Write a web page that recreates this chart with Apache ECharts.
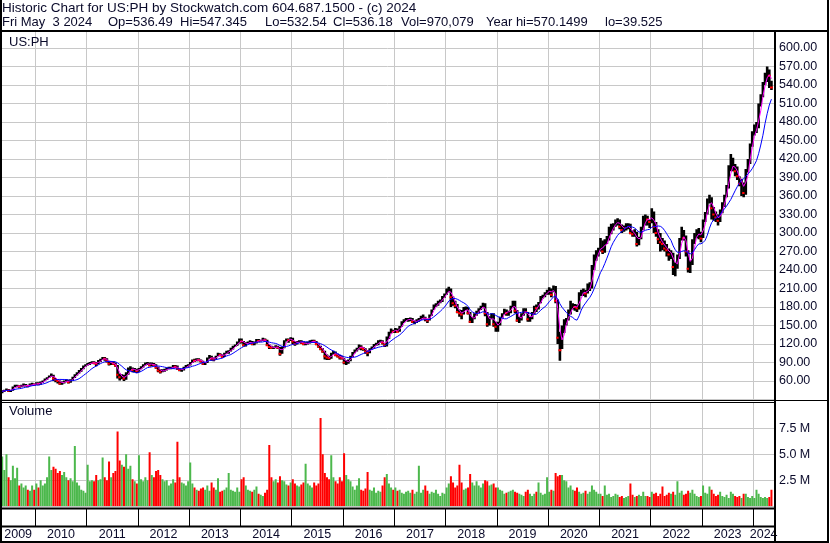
<!DOCTYPE html>
<html><head><meta charset="utf-8">
<script src="https://cdn.jsdelivr.net/npm/echarts@6/dist/echarts.min.js"></script>
<style>html,body{margin:0;padding:0;background:#fff}#c{width:830px;height:543px}</style>
</head><body><div id="c"></div>
<script>
// Half-month periods from May 2009 (first half) to May 2024 (first half)
const FIRST_PERIOD = 2009 + 4 / 12;

const closes = [
 43,45,46,44,45,50,52,52,51,52,53,53,52,54,55,54,
 57,55,58,60,63,65,68,70,64,62,60,56,57,60,61,58,62,66,70,72,76,80,84,86,
 88,89,90,89,88,93,95,97,96,92,88,90,88,85,70,66,68,64,70,80,80,78,78,76,
 80,82,86,88,89,85,88,86,82,77,75,77,78,80,81,81,84,83,80,78,78,82,85,85,
 90,94,93,95,94,92,88,89,97,100,96,95,100,104,102,99,105,108,108,112,116,118,122,128,
 124,118,122,122,124,120,122,127,125,126,128,126,118,115,114,114,116,114,104,114,124,128,126,129,
 124,120,124,124,122,120,120,122,124,125,124,120,116,112,108,100,98,97,104,107,102,100,98,97,
 90,92,92,100,106,110,112,118,114,112,108,106,112,115,118,120,124,125,122,118,130,138,142,140,
 144,140,148,155,158,160,160,160,156,156,158,160,162,164,160,158,166,175,182,184,188,190,196,200,
 206,210,196,186,182,172,170,168,178,178,170,156,162,168,172,176,180,184,170,152,162,168,152,148,
 152,162,168,175,170,172,180,188,174,158,160,168,176,172,160,162,170,180,178,186,196,198,202,206,
 208,200,212,190,130,110,140,155,160,172,180,182,180,178,200,204,205,202,210,215,240,260,265,272,
 285,270,285,290,300,310,312,318,320,310,305,308,312,312,300,298,300,282,290,305,320,325,322,318,
 334,310,300,290,285,282,275,272,265,268,245,245,260,290,300,292,270,242,250,285,295,300,300,291,
 320,330,352,355,340,330,325,320,335,345,360,375,405,410,410,400,392,380,382,365,400,415,440,460,
 470,470,505,520,540,555,560,555,536
];
const highs = [
 45,46,48,47,46,51,54,54,53,54,56,55,54,56,57,56,
 58,58,59,61,64,66,69,72,70,65,63,61,59,61,63,62,63,67,71,74,78,81,85,87,
 89,91,92,92,91,94,96,99,99,97,93,92,92,90,86,72,71,70,74,82,84,82,81,80,
 81,84,87,90,91,90,90,89,87,83,79,79,80,82,83,83,86,86,85,81,80,83,86,87,
 91,95,96,97,97,95,93,91,98,102,101,98,101,106,105,103,106,109,110,114,117,119,124,129,
 129,125,123,124,126,125,124,128,128,127,130,129,127,119,117,116,118,117,115,116,126,129,129,131,
 130,125,125,126,126,124,123,124,126,127,127,125,121,117,113,109,103,101,106,109,108,104,102,100,
 97,94,95,101,107,111,114,119,118,115,113,110,113,116,120,122,126,127,126,121,132,140,145,143,
 146,145,149,157,160,162,162,163,162,158,160,162,166,168,164,161,168,176,184,186,190,192,198,202,
 210,213,210,197,190,185,176,175,180,181,180,172,164,170,174,178,182,187,186,172,165,170,170,156,
 156,164,170,177,176,174,182,190,190,175,164,170,178,178,172,164,172,182,184,188,198,200,204,208,
 212,210,215,214,192,140,150,160,162,176,190,186,185,184,204,208,210,208,218,220,248,265,272,276,
 292,288,290,295,310,315,316,322,324,322,314,312,316,316,315,304,306,302,294,310,328,330,328,322,
 340,335,318,306,300,292,288,282,275,272,268,252,265,292,310,305,296,272,256,290,300,306,308,302,
 322,334,356,362,358,342,335,330,338,350,362,378,410,428,422,412,408,392,388,382,404,420,445,465,
 476,480,510,525,545,560,570,565,547
];
const lows = [
 40,42,44,42,42,44,50,50,49,50,51,51,50,52,53,53,
 54,53,54,57,60,62,65,67,60,58,56,54,54,56,58,56,57,61,65,69,72,75,79,83,
 85,86,88,87,84,87,91,94,93,90,85,86,86,83,64,61,63,60,62,70,76,74,74,73,
 75,79,82,85,86,84,84,84,80,74,72,74,75,77,79,79,80,81,78,76,75,77,81,83,
 85,89,91,92,92,90,86,86,89,96,93,92,95,100,100,98,99,104,104,108,111,115,117,121,
 121,116,116,120,120,118,118,121,123,124,125,124,117,112,112,112,113,112,101,104,113,124,122,125,
 120,117,119,122,120,118,118,119,121,123,122,118,114,110,106,95,94,94,96,103,100,98,95,95,
 87,86,88,92,99,105,108,111,110,109,104,100,105,111,114,117,118,122,119,115,116,128,137,138,
 138,139,140,148,154,157,156,157,154,152,154,156,159,161,157,154,158,166,175,180,182,186,188,195,
 200,204,180,182,178,170,164,160,168,175,168,154,154,160,166,170,175,178,165,148,150,160,148,140,
 140,150,162,168,166,166,170,179,170,156,154,158,166,170,156,156,160,168,172,176,186,194,196,200,
 200,196,204,186,120,93,112,138,150,158,168,176,174,172,176,198,198,196,202,206,210,240,255,262,
 270,266,268,282,288,298,304,310,312,306,300,302,304,306,298,294,294,278,280,290,305,312,312,308,
 316,300,294,282,270,272,270,262,255,258,232,230,242,258,288,288,262,236,235,248,282,292,290,285,
 292,318,330,348,322,320,318,312,318,332,342,358,372,400,400,392,386,376,360,358,362,398,412,440,
 458,462,470,505,520,540,545,535,532
];
// volume in millions of shares
const volumes = [
 4.8,3.5,5.0,2.8,2.5,3.9,2.7,3.7,2.0,2.2,1.8,2.0,1.6,1.5,2.0,1.6,
 2.2,1.8,2.5,2.0,2.2,2.8,4.8,3.5,3.8,3.6,3.2,3.4,3.0,3.3,2.8,2.5,2.7,2.4,5.8,2.3,2.0,1.6,1.5,1.3,
 4.0,2.4,2.5,2.4,3.0,2.5,2.6,4.7,2.8,2.5,4.3,2.8,3.2,3.4,7.2,4.4,4.0,3.8,5.0,3.6,3.9,2.6,2.4,2.2,
 4.9,2.6,2.4,2.8,2.5,5.2,3.0,2.8,3.4,3.5,3.0,2.6,2.4,2.5,2.0,2.2,2.6,2.3,6.2,2.8,2.3,2.2,2.0,2.4,
 4.2,2.2,1.8,1.6,1.5,1.7,1.8,1.6,2.0,1.5,2.3,1.8,1.6,2.7,1.4,1.5,1.6,1.8,3.2,1.6,1.5,1.4,1.8,1.4,
 2.6,2.8,2.0,1.6,1.5,1.4,1.6,1.9,1.2,1.1,1.0,1.3,1.6,5.9,2.8,2.4,2.6,2.3,2.9,2.5,2.4,2.1,2.0,2.3,
 2.6,2.2,2.0,1.9,2.1,2.3,4.1,2.2,2.0,1.8,2.3,2.0,2.2,8.5,5.0,3.2,2.8,2.6,4.9,2.8,2.4,2.2,2.8,2.4,
 5.1,3.0,2.6,2.4,1.9,1.6,2.0,2.7,1.6,1.5,1.7,3.3,1.6,1.5,1.8,1.3,1.5,1.4,2.0,2.8,3.1,2.2,1.8,1.6,
 1.8,1.5,1.6,1.3,1.2,1.4,1.5,1.3,1.6,1.2,1.4,3.9,1.3,1.6,2.0,1.5,1.2,1.4,1.3,1.6,1.2,1.0,1.3,1.2,
 1.8,2.2,2.9,2.3,1.8,2.0,4.0,2.3,1.6,1.7,1.8,3.1,2.3,2.0,2.4,2.0,1.8,2.2,2.5,2.4,2.0,2.1,2.2,1.8,
 1.8,1.6,1.5,1.2,1.3,1.4,1.5,1.6,1.4,1.3,1.2,1.1,1.0,1.4,1.6,1.2,1.0,1.2,1.4,2.3,1.3,1.1,1.2,2.8,
 1.4,1.6,1.5,3.2,2.9,3.0,3.0,2.5,2.4,1.8,2.0,1.6,1.5,1.8,1.4,1.2,1.3,1.5,1.2,1.4,2.0,1.6,1.4,1.2,
 1.2,1.0,2.0,1.1,1.2,0.9,1.0,1.2,1.1,0.9,1.0,0.8,0.9,1.0,2.2,1.1,0.9,1.0,1.1,1.0,1.4,1.0,1.0,0.9,
 1.4,1.2,1.3,1.0,1.2,1.9,1.0,1.1,1.3,1.2,1.4,1.1,2.4,1.3,1.5,1.1,1.2,1.5,1.3,1.6,1.2,1.0,0.9,1.0,
 2.0,1.3,1.2,1.9,1.6,1.2,1.0,1.1,1.4,1.0,0.9,1.1,0.8,1.4,1.2,1.0,0.9,1.0,0.8,1.2,1.2,0.9,0.8,1.0,
 0.8,1.6,1.2,0.9,0.8,0.9,0.8,0.9,1.6
];
const yearBoundaries = [2010,2011,2012,2013,2014,2015,2016,2017,2018,2019,2020,2021,2022,2023,2024];
const yearLabels = ['2009','2010','2011','2012','2013','2014','2015','2016','2017','2018','2019','2020','2021','2022','2023','2024'];
const priceTicks = [60,90,120,150,180,210,240,270,300,330,360,390,420,450,480,510,540,570,600];
const volumeTicks = [2.5, 5, 7.5];
const volumeTickLabels = ['2.5 M','5.0 M','7.5 M'];

const X_MIN = 2009.331, X_MAX = 2024.404;
const dates = closes.map((_, i) => FIRST_PERIOD + (i + 0.5) / 24);
const isDown = closes.map((c, i) => i > 0 && c < closes[i - 1] ? 1 : 0);

function sma(arr, n) {
  return arr.map((v, i) => {
    const s = Math.max(0, i - n + 1);
    let sum = 0;
    for (let k = s; k <= i; k++) sum += arr[k];
    return sum / (i - s + 1);
  });
}
const maShort = sma(closes, 3);   // ~30 trading days
const maLong = sma(closes, 10);   // ~100 trading days

// label positions: middle of each visible year cell
const labelPos = yearLabels.map(l => {
  const y = +l;
  const a = Math.max(y, X_MIN), b = Math.min(y + 1, X_MAX);
  return (a + b) / 2;
});

const FONT = '"Liberation Sans", Arial, sans-serif';
const TXT = '#0a0a2a';
const GRID = '#c8c8c8';

const chart = echarts.init(document.getElementById('c'), null, {renderer: 'canvas'});

const priceData = dates.map((t, i) => [t, lows[i], highs[i], closes[i], isDown[i]]);
const volData = dates.map((t, i) => [t, volumes[i], isDown[i]]);

const frame = [];
function box(x, y, w, h) { frame.push({type: 'rect', shape: {x, y, width: w, height: h}, style: {fill: '#000'}, silent: true}); }
box(0, 0, 2, 543);        // left border
box(827, 0, 2, 543);      // right border
box(0, 30, 829, 2);       // title bottom
box(774, 30, 2, 513);     // axis divider
box(0, 400, 829, 1);      // price / volume separator
box(0, 402, 775, 1);
box(0, 507.5, 775, 2);    // volume bottom
box(0, 525.5, 775, 2);    // tick strip bottom
box(0, 541, 829, 2);      // bottom border

function txt(text, x, y, size) {
  frame.push({type: 'text', x, y, silent: true,
    style: {text, fill: TXT, font: size + 'px ' + FONT, verticalAlign: 'top', align: 'left'}});
}
txt('Historic Chart for US:PH by Stockwatch.com 604.687.1500 - (c) 2024', 2, 1, 13.5);
txt('Fri May  3 2024', 2, 15.5, 13);
txt('Op=536.49', 108, 15.5, 13);
txt('Hi=547.345', 180, 15.5, 13);
txt('Lo=532.54', 265, 15.5, 13);
txt('Cl=536.18', 333, 15.5, 13);
txt('Vol=970,079', 401, 15.5, 13);
txt('Year hi=570.1499', 486, 15.5, 13);
txt('lo=39.525', 605, 15.5, 13);
txt('US:PH', 9, 36, 13);
txt('Volume', 9, 405, 13);

const option = {
  animation: false,
  backgroundColor: '#fff',
  grid: [
    {left: 1, top: 32, width: 773, height: 367.5},
    {left: 1, top: 402.3, width: 773, height: 104},
    {left: 1, top: 509, width: 773, height: 17}
  ],
  xAxis: [
    {gridIndex: 0, type: 'value', min: X_MIN, max: X_MAX,
     axisLine: {show: false}, axisLabel: {show: false}, splitLine: {show: false},
     axisTick: {show: true, inside: true, length: 367.5, customValues: yearBoundaries, lineStyle: {color: GRID, width: 1}}},
    {gridIndex: 1, type: 'value', min: X_MIN, max: X_MAX,
     axisLine: {show: false}, axisLabel: {show: false}, splitLine: {show: false},
     axisTick: {show: true, inside: true, length: 104, customValues: yearBoundaries, lineStyle: {color: GRID, width: 1}}},
    {gridIndex: 2, type: 'value', min: X_MIN, max: X_MAX,
     axisLine: {show: false}, splitLine: {show: false},
     axisTick: {show: true, inside: true, length: 17, customValues: yearBoundaries, lineStyle: {color: '#000', width: 1}},
     axisLabel: {show: true, customValues: labelPos, margin: 2, color: TXT, fontFamily: FONT, fontSize: 12.5,
       formatter: v => yearLabels.find(l => +l === Math.floor(v + 1e-9)) || ''}}
  ],
  yAxis: [
    {gridIndex: 0, type: 'value', position: 'right', min: 30, max: 626, interval: 30,
     axisLine: {show: false}, axisTick: {show: false},
     splitLine: {show: true, showMaxLine: false, lineStyle: {color: GRID, width: 1}},
     axisLabel: {margin: 5, color: TXT, fontFamily: FONT, fontSize: 12.5,
       formatter: v => priceTicks.includes(Math.round(v * 100) / 100) ? v.toFixed(2) : ''}},
    {gridIndex: 1, type: 'value', position: 'right', min: 0, max: 10, interval: 2.5,
     axisLine: {show: false}, axisTick: {show: false},
     splitLine: {show: true, lineStyle: {color: GRID, width: 1}},
     axisLabel: {margin: 5, color: TXT, fontFamily: FONT, fontSize: 12.5,
       formatter: v => { const k = volumeTicks.indexOf(v); return k >= 0 ? volumeTickLabels[k] : ''; }}},
    {gridIndex: 2, type: 'value', show: false, min: 0, max: 1}
  ],
  series: [
    {type: 'custom', xAxisIndex: 0, yAxisIndex: 0, clip: true, z: 2,
     data: priceData, encode: {x: 0, y: [1, 2]},
     renderItem: (params, api) => {
       const t = api.value(0);
       const lo = api.coord([t, api.value(1)]);
       const hi = api.coord([t, api.value(2)]);
       const cl = api.coord([t, api.value(3)]);
       const ch = [{type: 'line', shape: {x1: lo[0], y1: lo[1], x2: hi[0], y2: hi[1]}, style: {stroke: '#000', lineWidth: 2.6}}];
       if (api.value(4)) ch.push({type: 'rect', shape: {x: cl[0] - 1.5, y: cl[1] - 1, width: 3, height: 2}, style: {fill: '#ff0000'}});
       return {type: 'group', children: ch};
     }},
    {type: 'line', xAxisIndex: 0, yAxisIndex: 0, z: 3, showSymbol: false, symbol: 'none',
     data: dates.map((t, i) => [t, maShort[i]]), lineStyle: {color: '#ff00ff', width: 1}},
    {type: 'line', xAxisIndex: 0, yAxisIndex: 0, z: 4, showSymbol: false, symbol: 'none',
     data: dates.map((t, i) => [t, maLong[i]]), lineStyle: {color: '#0000ff', width: 1}},
    {type: 'custom', xAxisIndex: 1, yAxisIndex: 1, clip: true, z: 2,
     data: volData, encode: {x: 0, y: 1},
     renderItem: (params, api) => {
       const t = api.value(0);
       const top = api.coord([t, api.value(1)]);
       const base = api.coord([t, 0]);
       return {type: 'rect', shape: {x: top[0] - 1, y: top[1], width: 2, height: base[1] - top[1]},
         style: {fill: api.value(2) ? '#ff0000' : '#4cb84c'}};
     }}
  ],
  graphic: {elements: frame.map(e => Object.assign({z: 100}, e))}
};
chart.setOption(option);
</script>
</body></html>
